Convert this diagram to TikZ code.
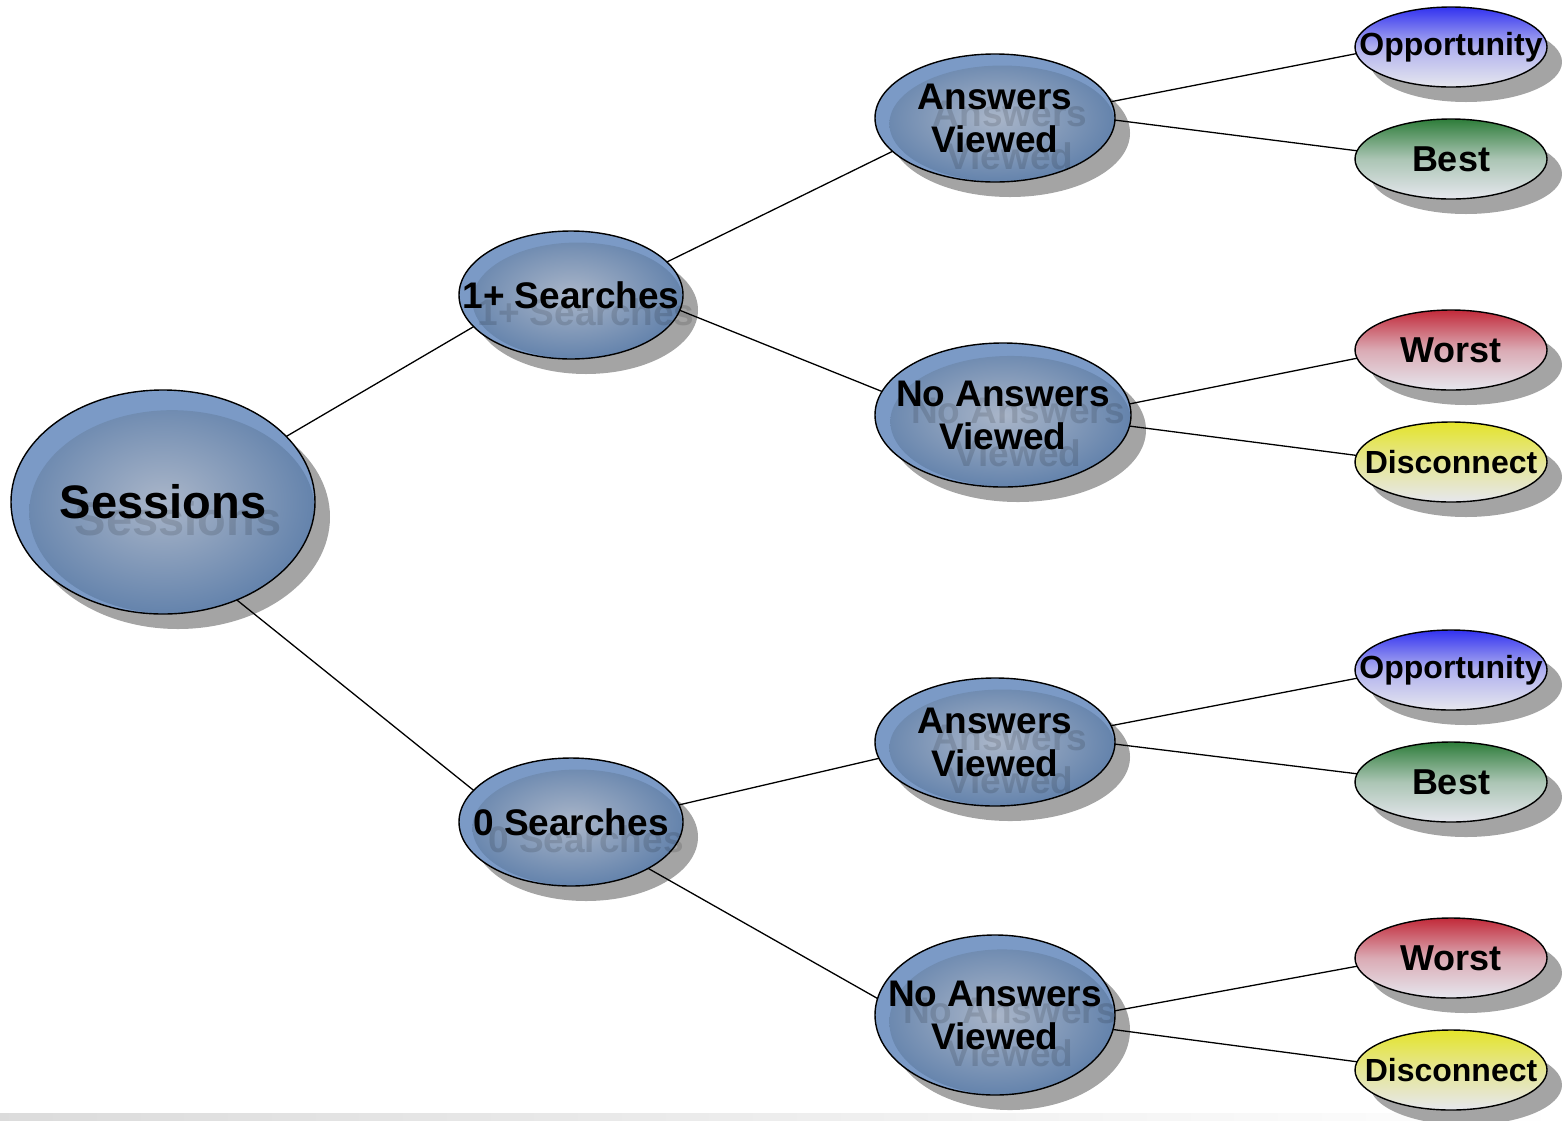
\documentclass[tikz,border=0pt]{standalone}
\usepackage{fontspec}
\setmainfont{Liberation Sans}
\usetikzlibrary{shapes.geometric,shadows,calc}
\definecolor{rim}{HTML}{7B9AC6}
\definecolor{bin}{HTML}{AAB6C9}
\definecolor{bout}{HTML}{6483AC}
\definecolor{shd}{HTML}{A4A4A4}
\definecolor{lowc}{HTML}{E6E7EE}
\definecolor{oppc}{HTML}{3232F0}
\definecolor{bestc}{HTML}{2E7D3A}
\definecolor{worstc}{HTML}{C22A3A}
\definecolor{discc}{HTML}{E4E42A}
\begin{document}
\begin{tikzpicture}[x=1pt,y=-1pt,
  every node/.style={inner sep=0pt, outer sep=0pt},
  base/.style={ellipse, draw=black, line width=1.4pt,
    drop shadow={shadow xshift=15pt, shadow yshift=-15pt, fill=shd, opacity=1}},
  bnode/.style={base, fill=rim,
    path picture={\shade[inner color=bin, outer color=bout]
      let \p1=(path picture bounding box.north east),
          \p2=(path picture bounding box.south west) in
      ($(path picture bounding box.center)+({0.03*(\x1-\x2)},{-0.045*(\y1-\y2)})$)
      ellipse [x radius={0.47*(\x1-\x2)}, y radius={0.455*(\y1-\y2)}];}},
  cnode/.style 2 args={base, minimum width=192pt, minimum height=80pt,
    top color=#1, bottom color=lowc, middle color=#2},
  lbl/.style n args={3}{
    label={[font=\bfseries\fontsize{#1}{#2}\selectfont, align=center,
            text=black, text opacity=0.13, xshift=15pt, yshift=-17pt]center:{#3}},
    label={[font=\bfseries\fontsize{#1}{#2}\selectfont, align=center,
            text=black]center:{#3}}},
  slbl/.style n args={3}{
    label={[font=\bfseries\fontsize{#1}{#2}\selectfont, align=center,
            text=black]center:{#3}}},
  conn/.style={line width=1.3pt, black}
]
\useasboundingbox (0,0) rectangle (1562,1120);
\shade[left color=black!14, right color=white] (0,1113) rectangle (1562,1120);

% blue nodes
\node[bnode, minimum width=304pt, minimum height=224pt, lbl={47}{54}{Sessions}] (ses) at (163,502) {};
\node[bnode, minimum width=224pt, minimum height=128pt, lbl={37}{43}{1+ Searches}] (s1) at (571,295) {};
\node[bnode, minimum width=224pt, minimum height=128pt, lbl={37}{43}{0 Searches}] (s0) at (571,822) {};
\node[bnode, minimum width=240pt, minimum height=128pt, lbl={37}{43}{Answers\\Viewed}] (av1) at (995,118) {};
\node[bnode, minimum width=256pt, minimum height=144pt, lbl={37}{43}{No Answers\\Viewed}] (nav1) at (1003,415) {};
\node[bnode, minimum width=240pt, minimum height=128pt, lbl={37}{43}{Answers\\Viewed}] (av2) at (995,742) {};
\node[bnode, minimum width=240pt, minimum height=160pt, lbl={37}{43}{No Answers\\Viewed}] (nav2) at (995,1015) {};

% coloured leaves
\node[cnode={oppc}{oppc!30!lowc}, slbl={32}{36}{Opportunity}] (o1) at (1451,47) {};
\node[cnode={bestc}{bestc!32!lowc}, slbl={36}{40}{Best}] (b1) at (1451,159) {};
\node[cnode={worstc}{worstc!32!lowc}, slbl={36}{40}{Worst}] (w1) at (1451,350) {};
\node[cnode={discc}{discc!45!lowc}, slbl={32}{36}{Disconnect}] (d1) at (1451,462) {};
\node[cnode={oppc}{oppc!30!lowc}, slbl={32}{36}{Opportunity}] (o2) at (1451,670) {};
\node[cnode={bestc}{bestc!32!lowc}, slbl={36}{40}{Best}] (b2) at (1451,782) {};
\node[cnode={worstc}{worstc!32!lowc}, slbl={36}{40}{Worst}] (w2) at (1451,958) {};
\node[cnode={discc}{discc!45!lowc}, slbl={32}{36}{Disconnect}] (d2) at (1451,1070) {};

% connectors
\draw[conn] (ses.28) -- (s1.198);
\draw[conn] (ses.-53) -- (s0.162);
\draw[conn] (s1.19) -- (av1.198);
\draw[conn] (s1.-8) -- (nav1.169);
\draw[conn] (av1.8) -- (o1.184);
\draw[conn] (av1.-1) -- (b1.175);
\draw[conn] (nav1.5) -- (w1.185);
\draw[conn] (nav1.-5) -- (d1.176);
\draw[conn] (s0.9) -- (av2.188);
\draw[conn] (s0.-31) -- (nav2.172);
\draw[conn] (av2.8) -- (o2.185);
\draw[conn] (av2.-1) -- (b2.175);
\draw[conn] (nav2.2) -- (w2.185);
\draw[conn] (nav2.-7) -- (d2.175);
\end{tikzpicture}
\end{document}
